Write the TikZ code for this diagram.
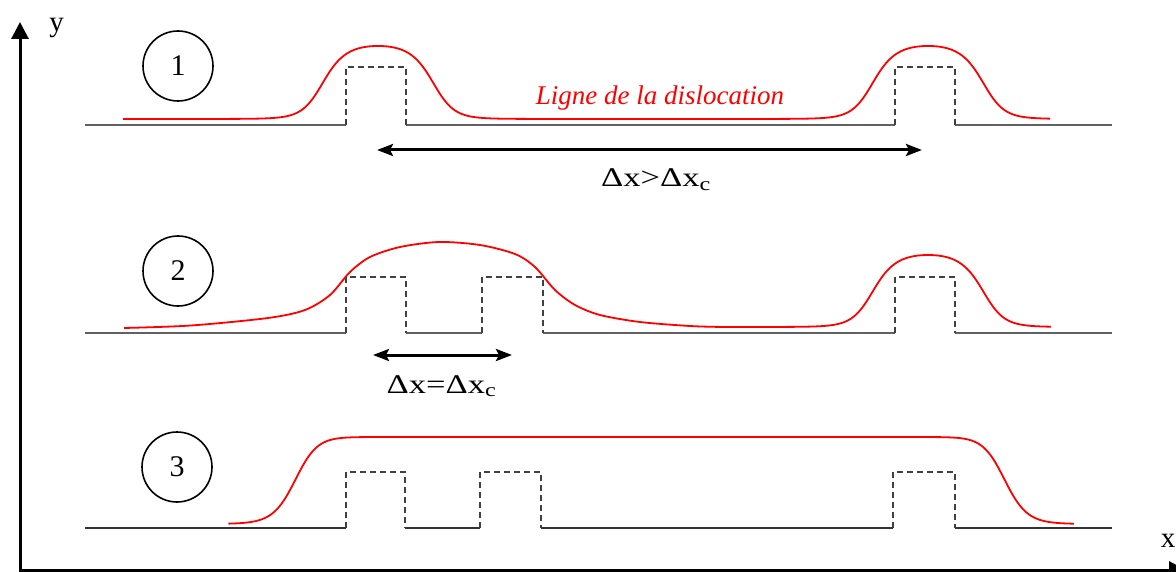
\documentclass[tikz,border=0pt]{standalone}
\usepackage{fontspec}
\setmainfont{Liberation Serif}
\usetikzlibrary{arrows.meta}
\tikzset{
  declare function={tt(\xx,\cc)=min(abs(\xx-\cc)/55,3);
                    bump(\xx,\cc)=1/(1+0.22*pow(tt(\xx,\cc),2)+0.4*pow(tt(\xx,\cc),4)+0.38*pow(tt(\xx,\cc),8));
                    plateau(\xx)=1/(1+pow(min(abs(\xx-650)/355,1.3),32));},
  ground/.style={draw=black!62, line width=2pt},
  ground3/.style={draw=black!80, line width=2pt},
  obstacle/.style={draw=black!75, line width=1.8pt, dash pattern=on 6pt off 4pt},
  dislo/.style={draw=red, line width=1.8pt},
  axisline/.style={line width=3pt, {Triangle[length=17pt,width=17pt]}-{Triangle[length=17pt,width=17pt]}},
  dimarrow/.style={line width=3pt, {Stealth[length=16pt,width=12pt,inset=3pt]}-{Stealth[length=16pt,width=12pt,inset=3pt]}},
  stage/.style={draw, circle, line width=1.6pt, minimum size=70pt, inner sep=0pt, font=\fontsize{30}{32}\selectfont},
  dimlabel/.style={anchor=base, font=\fontsize{27}{30}\selectfont},
  axislabel/.style={anchor=base, font=\fontsize{29}{31}\selectfont},
}
\begin{document}
\begin{tikzpicture}[x=1pt,y=-1pt]
\useasboundingbox (0,0) rectangle (1176,572);
% axes
\coordinate (O) at (20,570);
\coordinate (ytip) at (20,22);
\coordinate (xtip) at (1186,570);
\draw[axisline] (ytip) -- (O) -- (xtip);
\node[axislabel] (ylab) at (56.5,31.5) {y};
\node[axislabel] (xlab) at (1168,547) {x};

% stage labels
\node[stage] (s1) at (178,66) {1};
\node[stage] (s2) at (178,271) {2};
\node[stage] (s3) at (177,467) {3};

% ---------- row 1 ----------
\draw[ground] (85,125) -- (346,125);
\draw[ground] (406,125) -- (895,125);
\draw[ground] (955,125) -- (1112,125);
\draw[obstacle] (346,125) |- (406,67) -- (406,125);
\draw[obstacle] (895,125) |- (955,67) -- (955,125);
\draw[dislo] plot[domain=123:1050, samples=400] (\x,{119-73*(bump(\x,378)+bump(\x,928))});
\node[anchor=base, text=red, font=\fontsize{27}{30}\selectfont\itshape] (lbl) at (660,105) {Ligne de la dislocation};
\coordinate (a1) at (377,150);
\coordinate (b1) at (922,150);
\draw[dimarrow] (a1) -- (b1);
\node[dimlabel] (d1) at (656,186.7) {\scalebox{1.28}[1]{Δx>Δx\textsubscript{c}}};

% ---------- row 2 ----------
\draw[ground] (85,333) -- (346,333);
\draw[ground] (406,333) -- (482,333);
\draw[ground] (543,333) -- (895,333);
\draw[ground] (955,333) -- (1112,333);
\draw[obstacle] (346,333) |- (406,277) -- (406,333);
\draw[obstacle] (482,333) |- (543,277) -- (543,333);
\draw[obstacle] (895,333) |- (955,277) -- (955,333);
\draw[dislo] plot[smooth] coordinates {(124,328) (191,325.5) (268,318) (305,310) (330,295) (350,272) (370,257) (400,247) (439,242) (480,245) (515,254) (535,267) (555,290) (575,305) (600,315) (640,322) (690,326) (725,327) (760,327)}
  -- plot[domain=760:1051, samples=160] (\x,{327-72*bump(\x,928)});
\coordinate (a2) at (373,355);
\coordinate (b2) at (512,355);
\draw[dimarrow] (a2) -- (b2);
\node[dimlabel] (d2) at (441.5,393) {\scalebox{1.28}[1]{Δx=Δx\textsubscript{c}}};

% ---------- row 3 ----------
\draw[ground3] (85,528) -- (346,528);
\draw[ground3] (405,528) -- (480,528);
\draw[ground3] (541,528) -- (893,528);
\draw[ground3] (955,528) -- (1112,528);
\draw[obstacle] (346,528) |- (405,472) -- (405,528);
\draw[obstacle] (480,528) |- (541,472) -- (541,528);
\draw[obstacle] (893,528) |- (955,472) -- (955,528);
\draw[dislo] plot[domain=228.5:1074, samples=400] (\x,{524-87*plateau(\x)});
\end{tikzpicture}
\end{document}
